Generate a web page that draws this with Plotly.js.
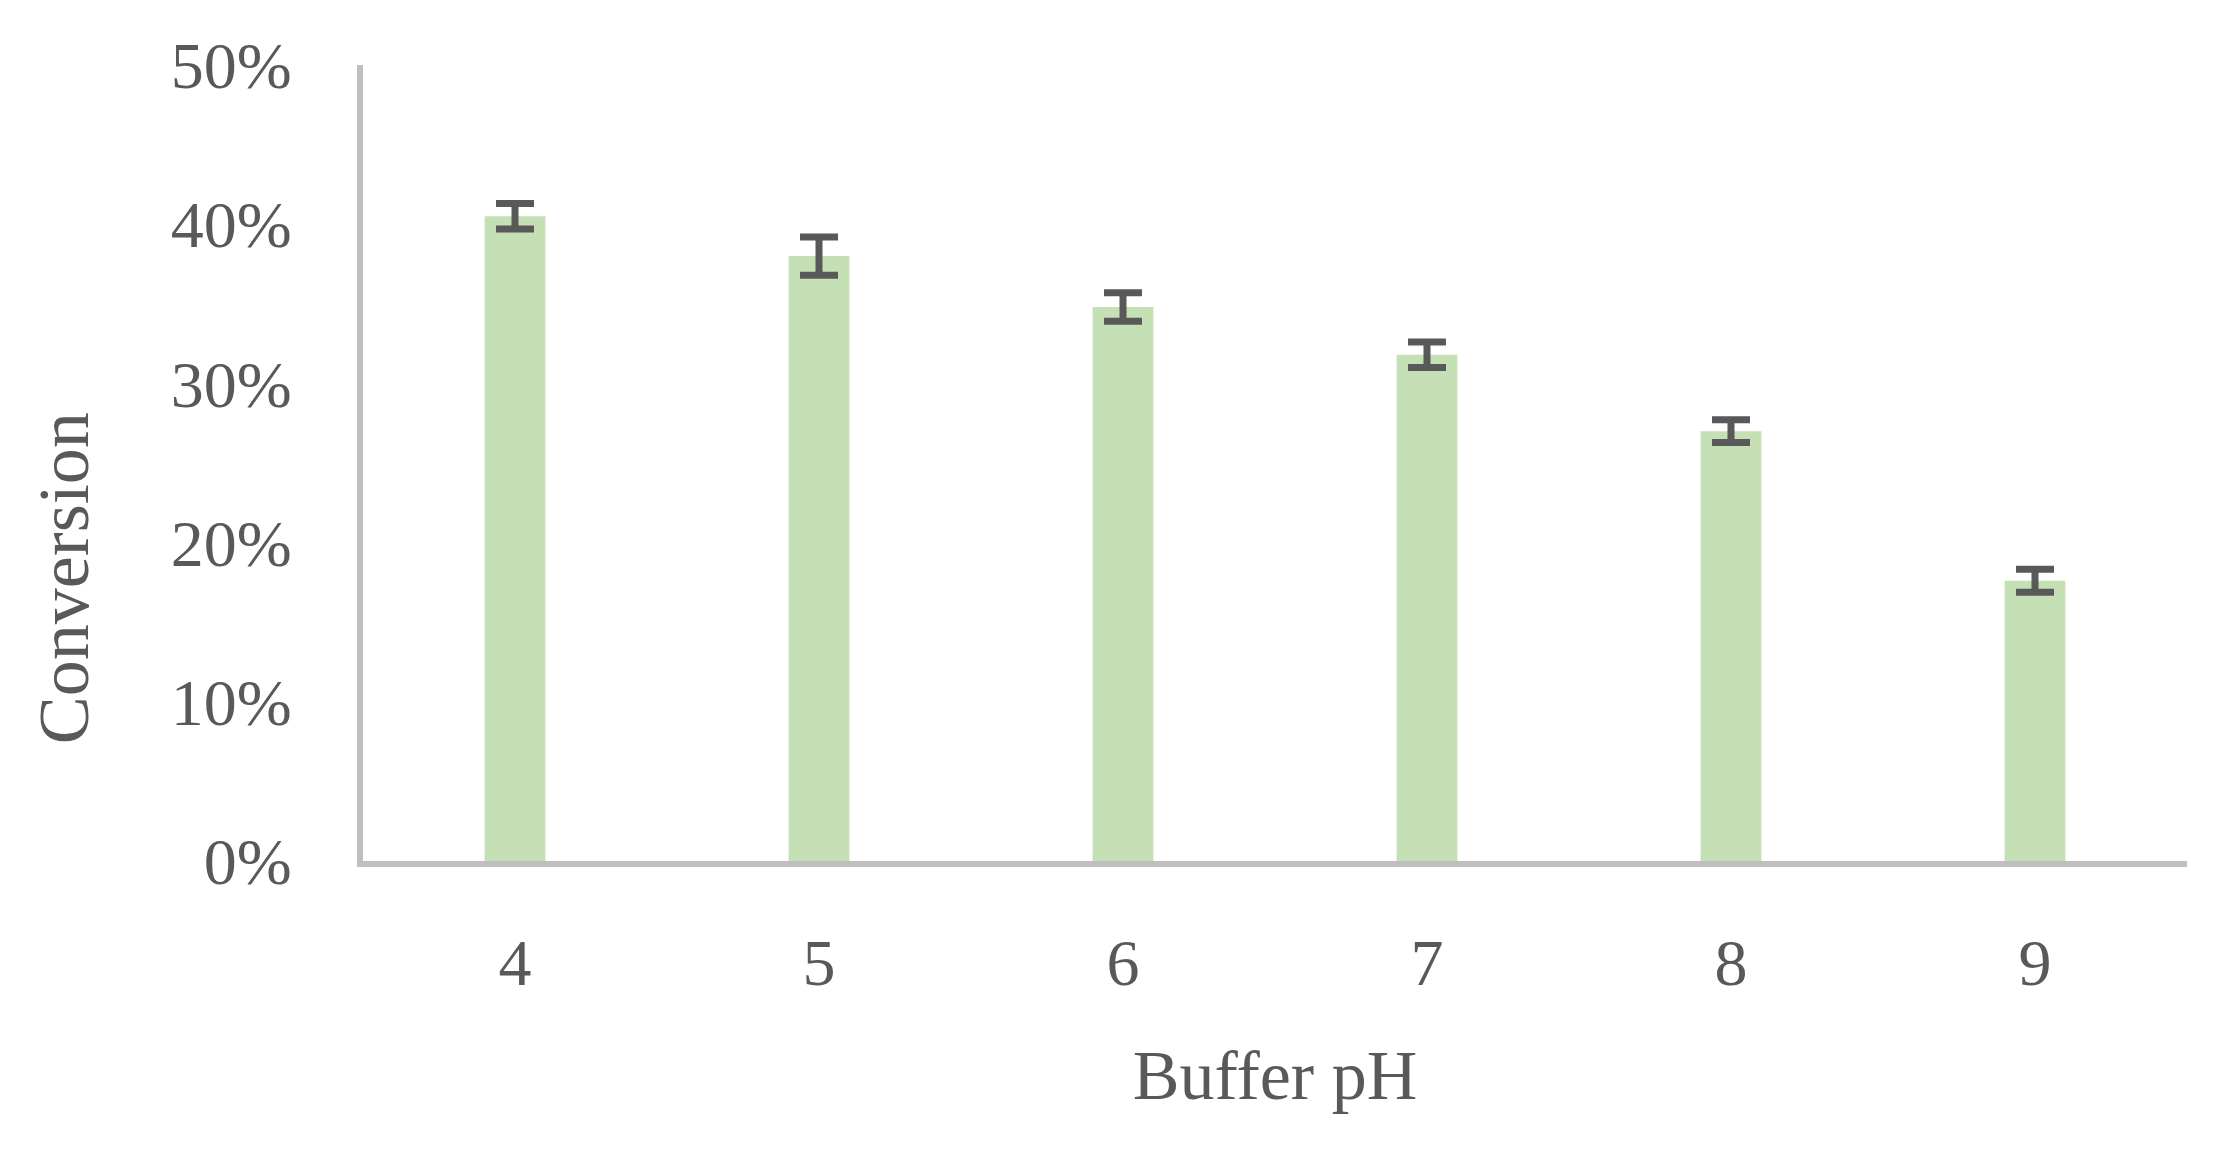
<!DOCTYPE html>
<html>
<head>
<meta charset="utf-8">
<script src="https://cdn.plot.ly/plotly-3.0.1.min.js"></script>
<style>html,body{margin:0;padding:0;background:#fff;}#chart{width:2221px;height:1157px;}</style>
</head>
<body>
<div id="chart"></div>
<script>
// Data
const bufferPH = ['4', '5', '6', '7', '8', '9'];
const conversion = [0.405, 0.380, 0.348, 0.318, 0.270, 0.176];
const conversionError = [0.008, 0.012, 0.009, 0.008, 0.0072, 0.0072];
const yTickValues = [0, 0.1, 0.2, 0.3, 0.4, 0.5];
const xTitle = 'Buffer pH';
const yTitle = 'Conversion';

const textColor = '#595959';
const fontFamily = '"Liberation Serif", "Times New Roman", serif';

const trace = {
  type: 'bar',
  x: bufferPH,
  y: conversion,
  marker: { color: '#C5E0B4', line: { width: 0 } },
  error_y: {
    type: 'data',
    array: conversionError,
    visible: true,
    color: '#595959',
    thickness: 7,
    width: 19
  },
  hoverinfo: 'x+y'
};

const layout = {
  width: 2221,
  height: 1157,
  paper_bgcolor: '#ffffff',
  plot_bgcolor: '#ffffff',
  margin: { l: 363, r: 34, t: 65, b: 296 },
  bargap: 0.8,
  showlegend: false,
  font: { family: fontFamily, color: textColor, size: 66 },
  xaxis: {
    type: 'category',
    showline: true,
    linecolor: '#BFBFBF',
    linewidth: 6,
    showgrid: false,
    zeroline: false,
    ticks: '',
    ticklabelstandoff: 39,
    tickfont: { family: fontFamily, size: 66, color: textColor },
    title: { text: xTitle, font: { family: fontFamily, size: 70, color: textColor }, standoff: 54 }
  },
  yaxis: {
    range: [0, 0.5],
    tickvals: yTickValues,
    tickformat: '.0%',
    showline: true,
    linecolor: '#BFBFBF',
    linewidth: 6,
    showgrid: false,
    zeroline: false,
    ticks: '',
    ticklabelstandoff: 52,
    tickfont: { family: fontFamily, size: 66, color: textColor }
  },
  annotations: [{
    text: yTitle,
    xref: 'paper', yref: 'paper',
    x: -0.1638, y: 0.3555,
    xanchor: 'center', yanchor: 'middle',
    textangle: -90,
    showarrow: false,
    font: { family: fontFamily, size: 72, color: textColor }
  }]
};

Plotly.newPlot('chart', [trace], layout, { displayModeBar: false, staticPlot: true });
</script>
</body>
</html>
